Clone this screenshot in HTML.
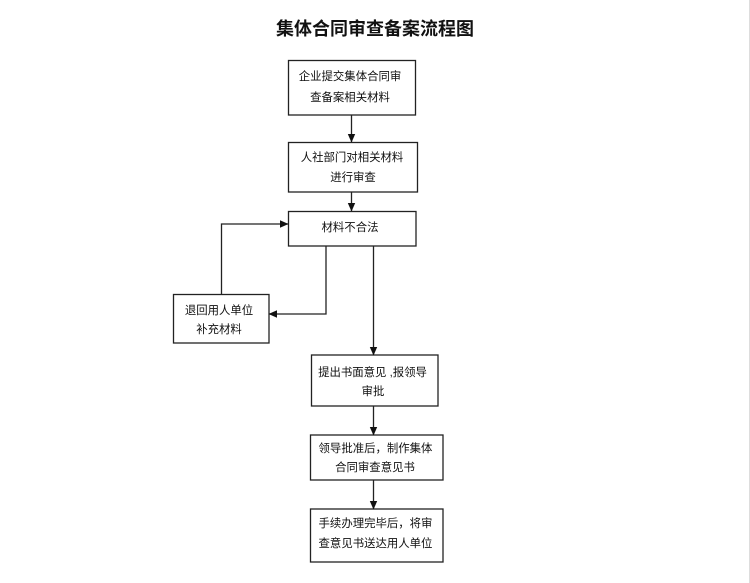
<!DOCTYPE html>
<html>
<head>
<meta charset="utf-8">
<style>
  html, body { margin:0; padding:0; background:#fff; }
  body { width:750px; height:583px; overflow:hidden; }
  svg { display:block; }
  text { font-family: "Liberation Sans", "Noto Sans CJK SC", "WenQuanYi Zen Hei", sans-serif; fill:#111; }
  .t { font-size:11.4px; }
  .title { font-size:18px; font-weight:bold; }
</style>
</head>
<body>
<svg width="750" height="583" viewBox="0 0 750 583" xmlns="http://www.w3.org/2000/svg">
  <defs>
    <marker id="ah" markerWidth="10" markerHeight="10" refX="8" refY="4.5" orient="auto" markerUnits="userSpaceOnUse">
      <path d="M0,0.8 L8.5,4.5 L0,8.2 Z" fill="#111"/>
    </marker>
  </defs>
  <rect x="0" y="0" width="750" height="583" fill="#fff"/>
  <line x1="749.5" y1="0" x2="749.5" y2="583" stroke="#ddd" stroke-width="1"/>

  <text class="title" x="375" y="29" text-anchor="middle" dominant-baseline="central">集体合同审查备案流程图</text>

  <g fill="#fff" stroke="#222" stroke-width="1.3">
    <rect x="288.5" y="60.5" width="127" height="54.5"/>
    <rect x="288.5" y="142.5" width="129" height="49.5"/>
    <rect x="288.5" y="211.5" width="127.5" height="34.5"/>
    <rect x="173.5" y="294.5" width="95.5" height="48.5"/>
    <rect x="311.5" y="355" width="126.5" height="51"/>
    <rect x="310.5" y="435" width="132.5" height="45"/>
    <rect x="310.5" y="509" width="132.5" height="53"/>
  </g>

  <g stroke="#222" stroke-width="1.3" fill="none">
    <line x1="351.5" y1="115" x2="351.5" y2="142" marker-end="url(#ah)"/>
    <line x1="351.5" y1="192" x2="351.5" y2="211" marker-end="url(#ah)"/>
    <polyline points="221.5,294.5 221.5,224 288,224" marker-end="url(#ah)"/>
    <polyline points="326,246 326,314 269,314" marker-end="url(#ah)"/>
    <line x1="373.5" y1="246" x2="373.5" y2="355" marker-end="url(#ah)"/>
    <line x1="373.5" y1="406" x2="373.5" y2="435" marker-end="url(#ah)"/>
    <line x1="373.5" y1="480" x2="373.5" y2="509" marker-end="url(#ah)"/>
  </g>

  <g class="t" text-anchor="middle" dominant-baseline="central">
    <text class="t" x="350" y="77">企业提交集体合同审</text>
    <text class="t" x="350" y="98">查备案相关材料</text>

    <text class="t" x="352" y="158">人社部门对相关材料</text>
    <text class="t" x="353" y="178">进行审查</text>

    <text class="t" x="350" y="228">材料不合法</text>

    <text class="t" x="219" y="311">退回用人单位</text>
    <text class="t" x="219" y="330">补充材料</text>

    <text class="t" x="372.5" y="373">提出书面意见 ,报领导</text>
    <text class="t" x="373" y="392">审批</text>

    <text class="t" x="375.5" y="449">领导批准后，制作集体</text>
    <text class="t" x="375" y="468">合同审查意见书</text>

    <text class="t" x="375.5" y="524">手续办理完毕后，将审</text>
    <text class="t" x="375.5" y="544">查意见书送达用人单位</text>
  </g>
</svg>
</body>
</html>
